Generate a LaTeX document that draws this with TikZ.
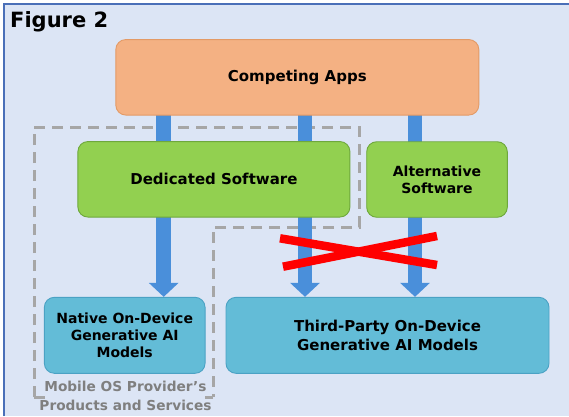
\documentclass[tikz,border=0pt]{standalone}
\usepackage{fontspec}
\setmainfont{DejaVu Sans}
\usetikzlibrary{arrows.meta}
\pgfdeclarelayer{back}
\pgfdeclarelayer{mid}
\pgfsetlayers{back,mid,main}
\definecolor{bgc}{HTML}{DCE5F5}
\definecolor{framec}{HTML}{4A6FB8}
\definecolor{orangef}{HTML}{F4B183}
\definecolor{oranged}{HTML}{E39A66}
\definecolor{greenf}{HTML}{92D050}
\definecolor{greend}{HTML}{6EA83C}
\definecolor{bluef}{HTML}{63BCD7}
\definecolor{blued}{HTML}{4BA2C4}
\definecolor{arrowc}{HTML}{4A8FDA}
\definecolor{dashc}{HTML}{A6A6A6}
\definecolor{grayt}{HTML}{7F7F7F}
\tikzset{
  boxbase/.style={rectangle, rounded corners=10pt, line width=0.9pt, align=center, inner sep=0pt, font=\bfseries},
  appbox/.style={boxbase, fill=orangef, draw=oranged},
  swbox/.style={boxbase, fill=greenf, draw=greend},
  aibox/.style={boxbase, fill=bluef, draw=blued},
  bigtext/.style={font=\bfseries\fontsize{15}{19}\selectfont},
  smalltext/.style={font=\bfseries\fontsize{14}{17}\selectfont},
  flowbar/.style={line width=14.5pt, arrowc, -{Triangle[width=29pt,length=14pt]}},
  boundary/.style={dashc, line width=3pt, dash pattern=on 11pt off 7pt},
  crossline/.style={red, line width=8.5pt}
}
\begin{document}
\begin{tikzpicture}[x=1pt,y=-1pt]
\useasboundingbox (0,0) rectangle (569,416);
% frame
\begin{pgfonlayer}{back}
\fill[bgc] (3,3) rectangle (569,416);
\draw[framec, line width=2pt] (4,416) -- (4,4) -- (569,4);
\end{pgfonlayer}
\node[anchor=base west, inner sep=0pt, font=\bfseries\fontsize{21}{25}\selectfont] (title) at (10,27.5) {Figure 2};

% boxes
\node[appbox, bigtext, minimum width=363pt, minimum height=75.5pt] (ca) at (297.3,77.3) {Competing Apps};
\node[swbox, bigtext, minimum width=272pt, minimum height=75.5pt] (ded) at (213.9,179.3) {Dedicated Software};
\node[swbox, smalltext, minimum width=140.6pt, minimum height=75.5pt] (alt) at (437,179.5) {Alternative\\Software};
\node[aibox, smalltext, minimum width=160.7pt, minimum height=76pt] (nat) at (124.7,335.3) {Native On-Device\\Generative AI\\Models};
\node[aibox, bigtext, minimum width=323pt, minimum height=76pt] (tp) at (387.5,335.3) {Third-Party On-Device\\Generative AI Models};

% provider boundary
\coordinate (b1) at (45,397);
\coordinate (b2) at (34,397);
\coordinate (b3) at (34,127);
\coordinate (b4) at (359,127);
\coordinate (b5) at (359,227);
\coordinate (b6) at (213,227);
\coordinate (b7) at (213,397);
\coordinate (b8) at (205,397);
\begin{pgfonlayer}{back}
\draw[boundary] (b2) -- (b3) -- (b4) -- (b5) -- (b6) -- (b7);
\draw[dashc, line width=3pt] (b1) -- (b2);
\draw[dashc, line width=3pt] (b7) -- (b8);
\end{pgfonlayer}
\node[inner sep=0pt, align=center, text=grayt, font=\bfseries\fontsize{13.7}{18.3}\selectfont] (prov) at (125.5,395.8) {Mobile OS Provider’s\\Products and Services};

% flows
\coordinate (x1) at (163.7,0);
\coordinate (x2) at (305,0);
\coordinate (x3) at (415,0);
\begin{pgfonlayer}{mid}
\draw[flowbar] (ca.center -| x1) -- (nat.north -| x1);
\draw[flowbar] (ca.center -| x2) -- (tp.north -| x2);
\draw[flowbar] (ca.center -| x3) -- (tp.north -| x3);
\end{pgfonlayer}

% red cross
\coordinate (r1) at (280,238.3);
\coordinate (r2) at (437,265);
\coordinate (r3) at (283,266.7);
\coordinate (r4) at (437,236);
\draw[crossline] (r1) -- (r2);
\draw[crossline] (r3) -- (r4);
\end{tikzpicture}
\end{document}
